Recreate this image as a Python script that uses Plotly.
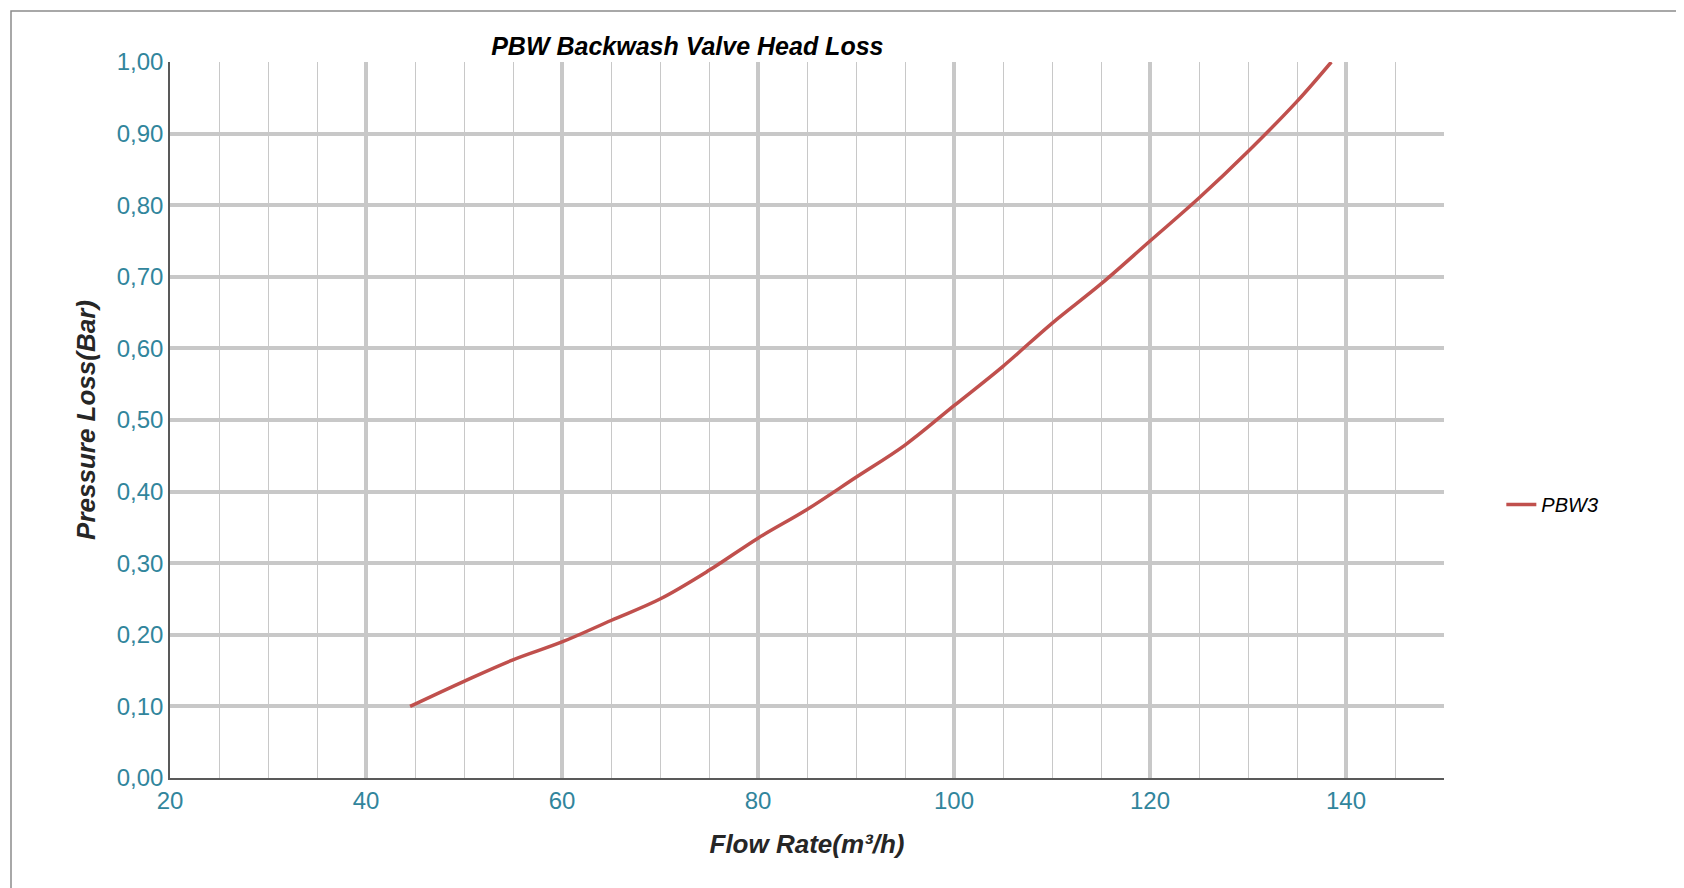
import plotly.graph_objects as go

flow = [44.5, 50, 55, 60, 65, 70, 75, 80, 85, 90, 95, 100, 105, 110, 115, 120, 125, 130, 135, 138.5]
loss = [0.10, 0.135, 0.165, 0.19, 0.22, 0.25, 0.29, 0.335, 0.375, 0.42, 0.465, 0.52, 0.575, 0.635, 0.69, 0.75, 0.81, 0.875, 0.945, 1.0]
y_ticks = [i / 10 for i in range(11)]
y_labels = [f"{v:.2f}".replace(".", ",") for v in y_ticks]

L, R, T, B = 162, 248, 54, 118
pw, ph = 1684 - L - R, 888 - T - B

fig = go.Figure(go.Scatter(x=flow, y=loss, mode="lines", name="PBW3",
                           line=dict(color="#C0504D", width=3.5, shape="spline")))
fig.update_layout(
    width=1684, height=888, plot_bgcolor="white", paper_bgcolor="white",
    margin=dict(l=L, r=R, t=T, b=B),
    font=dict(family="Liberation Sans"),
    title=dict(text="<b><i>PBW Backwash Valve Head Loss</i></b>", x=(L + pw * (637 - 155) / 1187) / 1684, xanchor="center",
               y=1 - 38 / 888, yanchor="middle", font=dict(size=25, color="black")),
    showlegend=True,
    legend=dict(x=1.045, y=0.382, xanchor="left", yanchor="middle", font=dict(size=20, color="black", style="italic")),
    shapes=[dict(type="rect", xref="paper", yref="paper",
                 x0=(3 - L) / pw, x1=(1681 - L) / pw, y0=-(B - 3) / ph, y1=1 + (T - 3) / ph,
                 line=dict(color="#8c8c8c", width=1.5))],
)
fig.update_xaxes(range=[20, 150], tick0=20, dtick=20, showgrid=True, gridcolor="#c8c8c8", gridwidth=4,
                 minor=dict(dtick=5, showgrid=True, gridcolor="#c8c8c8", gridwidth=1),
                 showline=True, linecolor="#595959", linewidth=1.5, ticks="",
                 tickfont=dict(size=24, color="#31859C"),
                 title=dict(text="<b><i>Flow Rate(m³/h)</i></b>", font=dict(size=26, color="#262626"), standoff=22),
                 zeroline=False)
fig.update_yaxes(range=[0, 1.0], tickvals=y_ticks, ticktext=y_labels, showgrid=True, gridcolor="#c8c8c8", gridwidth=4,
                 showline=True, linecolor="#595959", linewidth=1.5, ticks="",
                 tickfont=dict(size=24, color="#31859C"),
                 title=dict(text="<b><i>Pressure Loss(Bar)</i></b>", font=dict(size=26, color="#262626"), standoff=14),
                 zeroline=False)
fig.write_html("out.html")
